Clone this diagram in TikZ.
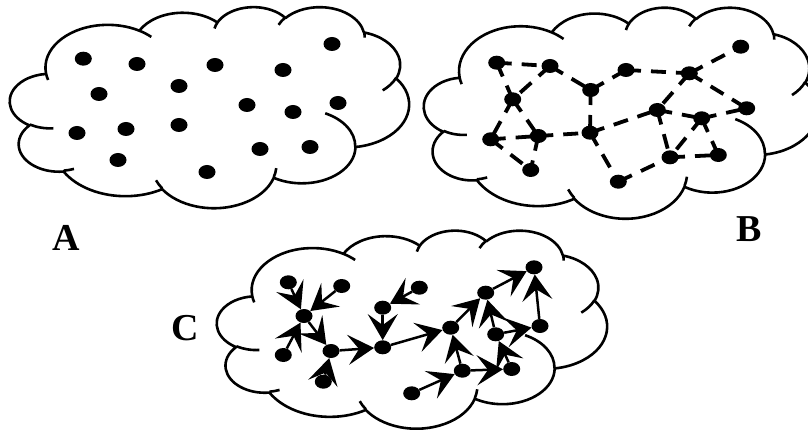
\documentclass[tikz,border=0pt]{standalone}
\usepackage{fontspec}
\setmainfont{Liberation Serif}
\usetikzlibrary{arrows.meta,shapes.geometric,backgrounds}

\newcommand\lobe[4]{arc[start angle={vp(#3,#1,#2)}, end angle={vp(#3+#4,#1,#2)},
  x radius=#1, y radius=#2]}
\newcommand\cloudpath{(39,143.70)
  \lobe{67.53}{91.90}{-190.4875}{123.7805}
  \lobe{53.33}{72.67}{-144.1024}{89.9452}
  \lobe{43.65}{59.45}{-145.8079}{99.7230}
  \lobe{48.57}{65.95}{-130.9861}{117.2417}
  \lobe{53.33}{72.73}{-78.7089}{109.0269}
  \lobe{67.75}{92.20}{-46.2673}{130.2690}
  \lobe{57.85}{78.67}{0.6250}{114.0333}
  \lobe{67.52}{92.15}{22.4516}{115.1726}
  \lobe{77.20}{105.43}{66.2426}{75.7110}
  \lobe{43.60}{59.18}{-274.9421}{146.7356}
  \lobe{43.45}{59.45}{-246.8285}{152.5189} -- cycle
  (46.93,261.77) \lobe{43.45}{59.45}{86.7420}{26.4295}
  (69.28,348.99) \lobe{43.60}{59.18}{73.6105}{11.4475}
  (164.78,390.90) \lobe{67.52}{92.15}{137.6242}{14.0811}
  (288.27,347.51) \lobe{67.52}{92.15}{6.4533}{15.9984}
  (341.29,229.54) \lobe{57.85}{78.67}{-70.2924}{70.9174}
  (417.98,153.54) \lobe{53.33}{72.73}{30.3180}{27.7515}
  (383.24,54.26) \lobe{48.57}{65.95}{-13.7443}{14.8589}
  (290.78,39.52) \lobe{48.57}{65.95}{-149.1815}{18.1954}
  (221.41,47.20) \lobe{43.65}{59.45}{-163.4943}{17.6864}
  (140.00,51.92) \lobe{67.53}{91.90}{-66.7070}{12.3194}
  (41.27,157.89) \lobe{67.53}{91.90}{157.6544}{11.8582}}

\begin{document}
\begin{tikzpicture}[x=1pt, y=-1pt,
  declare function={vp(\angl,\radx,\rady)=\angl+asin(sin(atan2(\radx*sin(\angl),\rady*cos(\angl))-\angl));},
  cloudline/.style={line width=2.6pt, line join=round},
  dot/.style={ellipse, fill, inner sep=0pt, minimum width=17pt, minimum height=14pt},
  link/.style={line width=3.8pt, dash pattern=on 15pt off 10pt},
  flow/.style={line width=2.5pt, -{Stealth[length=26pt, width=30pt, inset=11pt]}},
  lbl/.style={font=\fontsize{38}{38}\selectfont\bfseries}]
  \useasboundingbox (0,0) rectangle (808,430);
  \clip (0,0) rectangle (808,430);

  \begin{scope}[shift={(10,6.5)}, x=0.92361pt, y=-0.46528pt]
    \draw[cloudline] \cloudpath;
  \end{scope}
  \begin{scope}[shift={(424,7)}, x=0.91204pt, y=-0.48843pt]
    \draw[cloudline] \cloudpath;
  \end{scope}
  \begin{scope}[shift={(217,230)}, x=0.90278pt, y=-0.45833pt]
    \draw[cloudline] \cloudpath;
  \end{scope}

  \foreach \n/\x/\y in {1/83.3/58.7, 2/137/64, 3/215/65, 4/283/70, 5/332/44,
      6/99/94, 7/179/86, 8/247/105, 9/293/112, 10/338/103, 11/77/133,
      12/126/129, 13/179/125, 14/260/149, 15/310/147, 16/118/160, 17/207/172}
    \node[dot] (a\n) at (\x,\y) {};

  \foreach \n/\x/\y in {1/496.7/62.7, 2/550/66, 3/626/70, 4/689.3/73.3, 5/740.7/46.7,
      6/590.7/90, 7/512.7/99.3, 8/657.3/110, 9/701.7/118.3, 10/746.7/108.3,
      11/490.7/139.3, 12/538.3/136, 13/590/132.7, 14/670/157.3, 15/718.3/155,
      16/530.7/170, 17/618.3/181.7}
    \node[dot] (b\n) at (\x,\y) {};
  \begin{pgfonlayer}{background}
    \foreach \p/\q in {1/2, 1/7, 2/7, 2/6, 6/3, 3/4, 4/5, 4/8, 4/10, 6/13,
        7/11, 7/12, 11/12, 11/16, 12/16, 12/13, 13/8, 13/17, 17/14, 8/14,
        9/14, 14/15, 8/9, 9/10, 9/15}
      \draw[link] (b\p.center) -- (b\q.center);
  \end{pgfonlayer}

  \foreach \n/\x/\y in {1/288.3/282.3, 2/341.7/286, 3/304/316, 4/283.3/355,
      5/331/351, 6/323.3/381.7, 7/419.3/287.7, 8/382.7/307.7, 9/382.7/347.3,
      10/450.7/327.7, 11/485.7/292.7, 12/534/267.3, 13/495.7/334.3, 14/540/326,
      15/462.3/370.7, 16/511.7/369, 17/411.7/393.3}
    \node[dot] (c\n) at (\x,\y) {};
  \foreach \p/\q in {1/3, 2/3, 4/3, 3/5, 6/5, 5/9, 7/8, 8/9, 9/10, 10/11,
      11/12, 14/12, 13/11, 13/14, 15/10, 15/16, 16/13, 17/15}
    \draw[flow] (c\p) -- (c\q);

  \node[lbl] (la) at (66,238) {A};
  \node[lbl] (lb) at (749,229) {B};
  \node[lbl] (lc) at (185,328) {C};
\end{tikzpicture}
\end{document}
